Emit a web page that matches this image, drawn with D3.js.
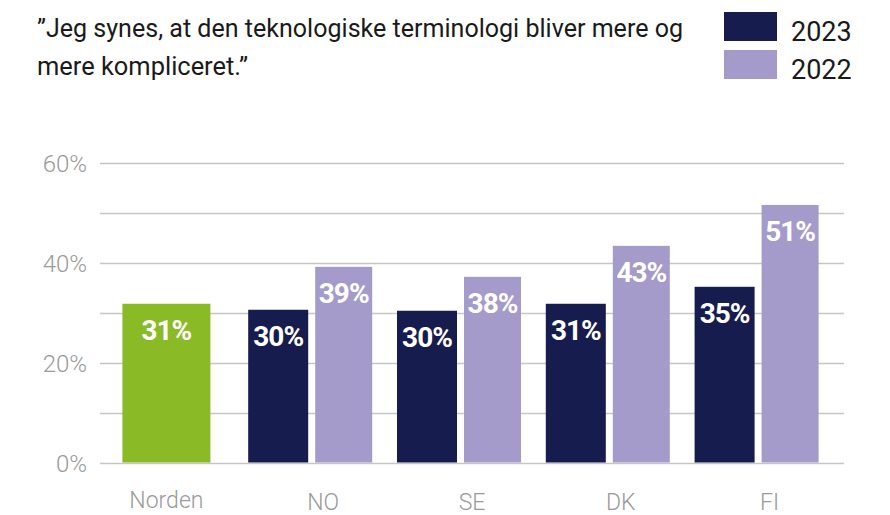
<!DOCTYPE html>
<html><head><meta charset="utf-8">
<script src="https://cdn.jsdelivr.net/npm/d3@7"></script>
<style>
html,body{margin:0;padding:0;background:#fff;}
svg{display:block;font-family:Roboto,"Noto Sans",sans-serif;}
</style></head>
<body><svg id="c" width="890" height="515"></svg>
<script>
// ---- data ----
const titleLines = ["\u201DJeg synes, at den teknologiske terminologi bliver mere og", "mere kompliceret.\u201D"];
const categories = ["Norden", "NO", "SE", "DK", "FI"];
const nordenValue = 31.8;
const nordenLabel = "31%";
const countries = ["NO", "SE", "DK", "FI"];
const values2023 = [30.6, 30.4, 31.8, 35.2];
const values2022 = [39.2, 37.2, 43.4, 51.6];
const labels2023 = ["30%", "30%", "31%", "35%"];
const labels2022 = ["39%", "38%", "43%", "51%"];
const seriesNames = ["2023", "2022"];
const yTicks = [0, 10, 20, 30, 40, 50, 60];
const yTickLabels = [0, 20, 40, 60];

// ---- style ----
const colNorden = "#8aba26", col2023 = "#171c4e", col2022 = "#a49bcb";
const gridCol = "#c6c6c6", axisText = "#9a9a9a";

const svg = d3.select("#c");
const x = d3.scaleBand().domain(categories).range([100, 844]);
const y = d3.scaleLinear().domain([0, 60]).range([462.5, 163]);

// gridlines
svg.append("g").selectAll("line").data(yTicks).join("line")
  .attr("x1", 100).attr("x2", 844)
  .attr("y1", d => Math.round(y(d)) + 0.5).attr("y2", d => Math.round(y(d)) + 0.5)
  .attr("stroke", gridCol).attr("stroke-width", 1.6);

// y axis labels
svg.append("g").selectAll("text").data(yTickLabels).join("text")
  .attr("x", 87).attr("y", d => y(d) + 9)
  .attr("text-anchor", "end").attr("font-size", 24).attr("font-weight", 300).attr("fill", axisText)
  .text(d => d + "%");

// category labels
svg.append("g").selectAll("text").data(categories).join("text")
  .attr("x", d => x.bandwidth() / 2 + x(d) + (d === "Norden" ? -8 : 0))
  .attr("y", d => d === "Norden" ? 508 : 510)
  .attr("text-anchor", "middle").attr("font-size", 23).attr("font-weight", 300).attr("fill", axisText)
  .text(d => d);

// Norden bar
const nW = 88;
const nx = x("Norden") + x.bandwidth() / 2 - 8 - nW / 2;
svg.append("rect").attr("x", nx).attr("width", nW)
  .attr("y", y(nordenValue)).attr("height", y(0) - y(nordenValue)).attr("fill", colNorden);
svg.append("text").attr("x", nx + nW / 2).attr("y", y(nordenValue) + 36)
  .attr("text-anchor", "middle").attr("font-size", 28).attr("font-weight", 700)
  .attr("fill", "#fff").attr("letter-spacing", -1).text(nordenLabel);

// grouped bars
const w23 = 60, w22 = 57, gap = 7, offset = -13;
function gx(c) { return x(c) + x.bandwidth() / 2 + offset - (w23 + gap + w22) / 2; }
const bars = [];
countries.forEach((c, i) => {
  bars.push({x: gx(c), w: w23, v: values2023[i], lab: labels2023[i], col: col2023});
  bars.push({x: gx(c) + w23 + gap, w: w22, v: values2022[i], lab: labels2022[i], col: col2022});
});
svg.append("g").selectAll("rect").data(bars).join("rect")
  .attr("x", d => d.x).attr("width", d => d.w)
  .attr("y", d => y(d.v)).attr("height", d => y(0) - y(d.v)).attr("fill", d => d.col);
svg.append("g").selectAll("text").data(bars).join("text")
  .attr("x", d => d.x + d.w / 2).attr("y", d => y(d.v) + 36)
  .attr("text-anchor", "middle").attr("font-size", 28).attr("font-weight", 700)
  .attr("fill", "#fff").attr("letter-spacing", -1).text(d => d.lab);

// title
svg.append("g").selectAll("text").data(titleLines).join("text")
  .attr("x", 37).attr("y", (d, i) => 37 + i * 38)
  .attr("font-size", 25).attr("fill", "#1a1a1a")
  .attr("textLength", (d, i) => i === 0 ? 646 : 211).attr("lengthAdjust", "spacingAndGlyphs")
  .text(d => d);

// legend
const leg = svg.append("g");
const legCols = [col2023, col2022];
seriesNames.forEach((s, i) => {
  leg.append("rect").attr("x", 724).attr("y", 12 + i * 38).attr("width", 53).attr("height", 29).attr("fill", legCols[i]);
  leg.append("text").attr("x", 791).attr("y", 41 + i * 38).attr("font-size", 27).attr("fill", "#1a1a1a").text(s);
});
</script></body></html>
